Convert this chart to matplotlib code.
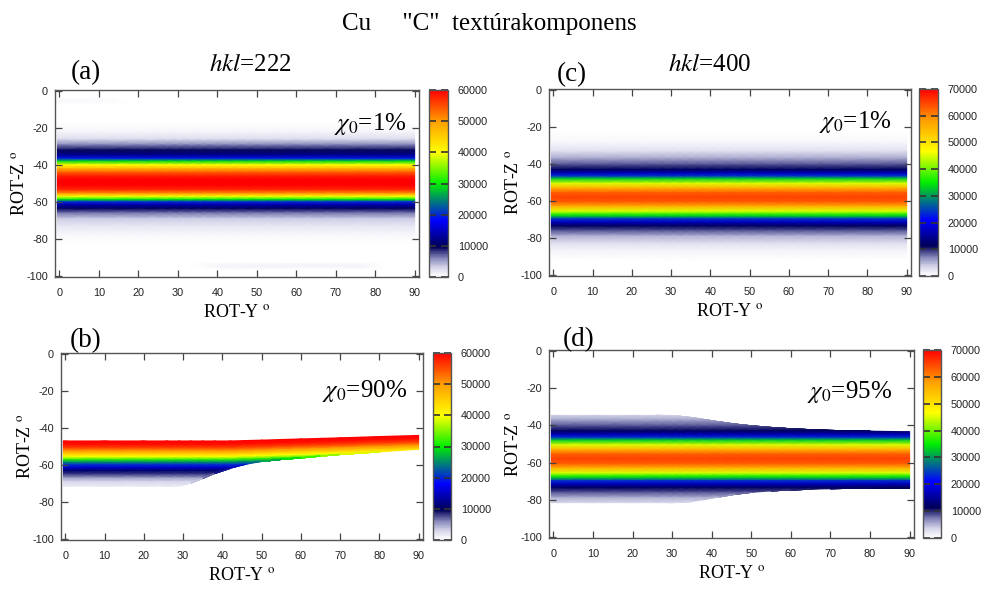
import numpy as np
import matplotlib
matplotlib.use('Agg')
import matplotlib.pyplot as plt
from matplotlib.colors import LinearSegmentedColormap, Normalize

plt.rcParams['font.family'] = 'Liberation Sans'
plt.rcParams['mathtext.fontset'] = 'stix'
plt.rcParams['axes.unicode_minus'] = False

# ROT-Y columns where the band edges were read
rot_y = [-0.5, 10, 20, 26, 29, 32, 35, 38, 42, 46, 50, 55, 60, 65, 70, 80, 90]

# (a) hkl=222, chi0=1% : intensity profile along ROT-Z
z_a = [-17, -22, -26, -29, -32, -34.5, -36.5, -38, -40, -42, -44, -46, -48, -51,
       -53.5, -55.5, -57, -58.6, -60, -61.5, -63.5, -66, -69, -73, -78, -83]
v_a = [0, 800, 2500, 6000, 9500, 12000, 19000, 29000, 40000, 48000, 54000, 58000,
       60000, 60000, 57000, 50000, 40000, 30000, 20000, 14000, 10000, 6500, 3500,
       1800, 600, 0]

# faint spots in (a)
faint1_y = [-0.5, 6, 14, 18]
faint1_z = [-3.5, -5.5, -7.5]
faint1_v = [[0, 0, 0, 0], [500, 500, 350, 0], [0, 0, 0, 0]]
faint2_y = [33, 42, 76, 82]
faint2_z = [-92.5, -94.5, -96.5]
faint2_v = [[0, 0, 0, 0], [0, 1100, 1100, 0], [0, 0, 0, 0]]

# (b) hkl=222, chi0=90% : profile from the upper cut downwards
z_b = [-47, -49, -51, -52.5, -54, -55.5, -57, -58.5, -60, -61.5, -63, -65, -67,
       -69, -71.5, -74]
v_b = [60000, 59000, 55000, 50000, 45000, 40000, 32000, 25000, 20000, 15000,
       11000, 8000, 5000, 3000, 1500, 500]
top_b = [-47, -47, -47, -47, -47, -47, -47, -47, -47, -46.75, -46.55, -46.2,
         -45.9, -45.6, -45.3, -44.6, -44]
bot_b = [-71.5, -71.5, -71.5, -71.5, -71.2, -69.8, -67.3, -64.6, -61.8, -59.6,
         -58.1, -57, -56.2, -55.2, -54.3, -52.9, -51.5]
# the (b) band drifts upward together with its upper cut
shift_b = [0, 0, 0, 0, 0, 0, 0, 0, 0, 0.25, 0.45, 0.8, 1.1, 1.4, 1.7, 2.4, 3.0]

# (c) hkl=400, chi0=1%
z_c = [-22, -28, -33, -37, -40.5, -43, -45, -46.5, -48, -50.5, -53, -55.5, -58,
       -60.5, -63, -65.5, -67, -68.2, -69.7, -71.5, -73.5, -76, -79, -83, -87, -92]
v_c = [0, 800, 2500, 5500, 9000, 11500, 17000, 24000, 33000, 45000, 56000, 63000,
       65000, 63000, 56000, 45000, 38000, 33000, 24000, 17000, 11500, 8500, 5000,
       2500, 1000, 0]

# (d) hkl=400, chi0=95% : same profile, cut at these edges
top_d = [-34.6, -34.6, -34.6, -34.6, -34.7, -35.1, -35.8, -36.8, -38.1, -39.3,
         -40.2, -41.1, -41.8, -42.3, -42.7, -43.1, -43.4]
bot_d = [-81.5, -81.5, -81.5, -81.5, -81.5, -81.4, -80.9, -79.9, -78.4, -77,
         -76, -75.2, -74.7, -74.3, -74, -73.7, -73.6]

# gnuplot-like palette: white -> navy -> blue -> green -> yellow -> orange -> red
cmap = LinearSegmentedColormap.from_list('texture', [
    (0.0, '#ffffff'), (0.05, '#d4d4ea'), (0.1, '#8484b8'), (0.16, '#000058'),
    (0.3, '#0000ff'), (0.5, '#00ee00'), (0.667, '#ffff00'), (0.83, '#ffa000'),
    (1.0, '#ff0000')])

W, H = 981, 590
SERIF = 'Liberation Serif'


def box(x0, y0, x1, y1):
    return [x0 / W, 1 - y1 / H, (x1 - x0) / W, (y1 - y0) / H]


def band(ax, zs, vs, vmax, top=None, bot=None, shift=None):
    zs = np.array(zs, dtype=float)
    vs = np.array(vs, dtype=float)
    n = len(rot_y)
    off = np.zeros(n) if shift is None else np.array(shift, dtype=float)
    Z = zs[:, None] + off[None, :]
    if top is not None:
        Z = np.clip(Z, np.array(bot)[None, :], np.array(top)[None, :])
    # intensity at each node = the profile value at that (possibly cut) position
    C = np.empty_like(Z)
    for j in range(n):
        C[:, j] = np.interp(Z[:, j] - off[j], zs[::-1], vs[::-1])
    X = np.repeat(np.array(rot_y, dtype=float)[None, :], len(zs), axis=0)
    return ax.pcolormesh(X, Z, C, shading='gouraud', cmap=cmap,
                         norm=Normalize(0, vmax))


def spot(ax, ys, zs, vals, vmax):
    X, Z = np.meshgrid(ys, zs)
    ax.pcolormesh(X, Z, np.array(vals, dtype=float), shading='gouraud',
                  cmap=cmap, norm=Normalize(0, vmax))


def style(ax, cax, mesh, vmax):
    ax.set_xlim(-1.1, 91.1)
    ax.set_ylim(-100.5, 0.5)
    ax.set_xticks(range(0, 91, 10))
    ax.set_yticks(range(-100, 1, 20))
    ax.tick_params(direction='in', top=True, right=True, length=5, width=0.9,
                   color='#444', labelsize=7.8, labelcolor='#222')
    ax.tick_params(axis='x', pad=8)
    ax.tick_params(axis='y', pad=5)
    for s in ax.spines.values():
        s.set_edgecolor('#555')
        s.set_linewidth(1.0)
    ax.set_xlabel(r'ROT-Y $^{\rm o}$', family=SERIF, fontsize=13, labelpad=4)
    ax.set_ylabel(r'ROT-Z $^{\rm o}$', family=SERIF, fontsize=13, labelpad=-1.5)

    cb = fig.colorbar(mesh, cax=cax, ticks=range(0, vmax + 1, 10000))
    cb.outline.set_edgecolor('#555')
    cb.outline.set_linewidth(1.0)
    cax.tick_params(direction='in', left=True, right=True, length=5, width=1.2,
                    color='#333', labelsize=7.8, labelcolor='#222', pad=7)


fig = plt.figure(figsize=(9.81, 5.90), dpi=100)

ax_a = fig.add_axes(box(55, 90, 419, 277))
ax_b = fig.add_axes(box(61, 353, 423, 540))
ax_c = fig.add_axes(box(549, 89, 911, 276))
ax_d = fig.add_axes(box(549, 350, 914, 538))
cax_a = fig.add_axes(box(429, 90, 448, 277))
cax_b = fig.add_axes(box(433, 353, 451, 540))
cax_c = fig.add_axes(box(919, 89, 938, 276))
cax_d = fig.add_axes(box(923, 350, 941, 538))

m_a = band(ax_a, z_a, v_a, 60000)
spot(ax_a, faint1_y, faint1_z, faint1_v, 60000)
spot(ax_a, faint2_y, faint2_z, faint2_v, 60000)
m_b = band(ax_b, z_b, v_b, 60000, top_b, bot_b, shift_b)
m_c = band(ax_c, z_c, v_c, 70000)
m_d = band(ax_d, z_c, v_c, 70000, top_d, bot_d)

style(ax_a, cax_a, m_a, 60000)
style(ax_b, cax_b, m_b, 60000)
style(ax_c, cax_c, m_c, 70000)
style(ax_d, cax_d, m_d, 70000)

# titles and panel annotations
fig.text(489.5 / W, 1 - 30 / H, 'Cu     "C"  textúrakomponens', family=SERIF,
         fontsize=18, ha='center', va='baseline')
fig.text(209 / W, 1 - 71 / H, r'$hkl$=222', family=SERIF, fontsize=18,
         va='baseline')
fig.text(668 / W, 1 - 71 / H, r'$hkl$=400', family=SERIF, fontsize=18,
         va='baseline')
for label, x, y in [('(a)', 71, 79), ('(b)', 70, 347), ('(c)', 557, 81), ('(d)', 563, 346)]:
    fig.text(x / W, 1 - y / H, label, family=SERIF, fontsize=19.5, va='baseline')
for label, x, y in [(r'$\chi_0$=1%', 407, 130), (r'$\chi_0$=90%', 407, 397),
                    (r'$\chi_0$=1%', 892, 128), (r'$\chi_0$=95%', 892, 398)]:
    fig.text(x / W, 1 - y / H, label, family=SERIF, fontsize=18, ha='right',
             va='baseline')

fig.savefig('out.png', dpi=100)
plt.close(fig)
